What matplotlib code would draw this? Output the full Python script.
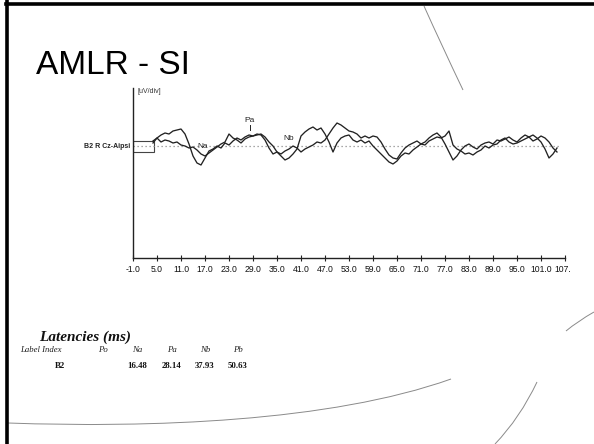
import matplotlib
matplotlib.use("Agg")
import matplotlib.pyplot as plt
from matplotlib.path import Path
from matplotlib.patches import PathPatch, Rectangle
from matplotlib.transforms import Bbox, TransformedBbox

# ---------------- data ----------------
title = "AMLR - SI"
channel_label = "B2 R Cz-Aipsi"
unit_label = "[uV/div]"

tick_values = [-1, 5, 11, 17, 23, 29, 35, 41, 47, 53, 59, 65, 71, 77, 83, 89, 95, 101, 107]
tick_labels = ["-1.0", "5.0", "11.0", "17.0", "23.0", "29.0", "35.0", "41.0", "47.0", "53.0",
               "59.0", "65.0", "71.0", "77.0", "83.0", "89.0", "95.0", "101.0", "107.0"]

time_ms = [4, 5, 6, 7, 8, 9, 10, 11, 12, 13, 14, 15, 16, 17, 18, 19, 20, 21, 22, 23,
           24, 25, 26, 27, 28, 29, 30, 31, 32, 33, 34, 35, 36, 37, 38, 39, 40, 41, 42, 43,
           44, 45, 46, 47, 48, 49, 50, 51, 52, 53, 54, 55, 56, 57, 58, 59, 60, 61, 62, 63,
           64, 65, 66, 67, 68, 69, 70, 71, 72, 73, 74, 75, 76, 77, 78, 79, 80, 81, 82, 83,
           84, 85, 86, 87, 88, 89, 90, 91, 92, 93, 94, 95, 96, 97, 98, 99, 100, 101, 102, 103,
           104, 105]

trace_a = [5, 8, 11, 13, 12, 15, 16, 17, 12, 2, -10, -17, -19, -12, -5, -3, 0, -2, 3, 1,
           5, 8, 6, 9, 11, 10, 12, 11, 6, -2, -8, -6, -10, -14, -12, -8, -3, 10, 14, 17,
           19, 16, 18, 12, 4, -6, 3, 8, 10, 11, 6, 4, 6, 3, 5, 0, -4, -8, -12, -16,
           -18, -15, -10, -7, -8, -4, -1, 2, 1, 5, 7, 9, 8, 10, 15, 1, -3, -5, -8, -7,
           -9, -6, -4, 0, -2, 1, 2, 6, 8, 4, 2, 3, 5, 7, 9, 11, 8, 4, -3, -12,
           -8, -2]

trace_b = [3, 8, 4, 6, 5, 3, 4, 1, 0, -2, -1, -4, -8, -10, -7, -4, -1, 2, 4, 12,
           8, 6, 3, 7, 9, 10, 11, 12, 9, 4, 0, -6, -8, -5, -3, 0, -2, -6, -3, -1,
           1, 4, 3, 6, 12, 18, 23, 21, 18, 15, 14, 12, 8, 10, 8, 10, 9, 4, -3, -9,
           -12, -13, -7, -2, 1, 3, 5, 2, 4, 8, 11, 13, 9, 2, -6, -14, -10, -4, 0, 2,
           -1, -3, 1, 3, 4, 2, 6, 5, 7, 9, 6, 4, 8, 11, 9, 5, 7, 10, 8, 4,
           -2, -6]

peak_names = ["Na", "Pa", "Nb"]
peak_latency = [16.48, 28.14, 37.93]
peak_label_level = [-4, 22, 4]

table_title = "Latencies (ms)"
table_header = ["Label Index", "Po", "Na", "Pa", "Nb", "Pb"]
table_row_label = "B2"
table_values = ["", "16.48", "28.14", "37.93", "50.63"]

# ---------------- figure ----------------
W, H = 594, 444
fig = plt.figure(figsize=(W / 100, H / 100), dpi=100)
fig.patch.set_facecolor("white")


def fx(x):
    return x / W


def fy(y):
    return 1 - y / H


# slide frame (left + top)
fig.add_artist(plt.Line2D([fx(7), fx(7)], [fy(0), fy(444)], transform=fig.transFigure,
                          color="black", lw=2.6))
fig.add_artist(plt.Line2D([fx(6), fx(594)], [fy(4.5), fy(4.5)], transform=fig.transFigure,
                          color="black", lw=2.6))

# decorative slide curves
deco = [
    ([(424, 6), (441, 44), (463, 90)], [Path.MOVETO, Path.CURVE3, Path.CURVE3]),
    ([(8, 423), (150, 428), (330, 422), (451, 379)], [Path.MOVETO, Path.CURVE4, Path.CURVE4, Path.CURVE4]),
    ([(594, 312), (578, 321), (566, 331)], [Path.MOVETO, Path.CURVE3, Path.CURVE3]),
    ([(537, 382), (520, 418), (495, 444)], [Path.MOVETO, Path.CURVE3, Path.CURVE3]),
]
for pts, codes in deco:
    verts = [(fx(x), fy(y)) for x, y in pts]
    fig.add_artist(PathPatch(Path(verts, codes), transform=fig.transFigure,
                             fill=False, edgecolor="#8a8a8a", lw=0.7))

# title
fig.text(fx(36), fy(74), title, fontsize=24, family="Liberation Sans",
         ha="left", va="baseline", color="black")

# ---------------- waveform axes ----------------
ax = fig.add_axes([fx(133), fy(258), fx(565) - fx(133), fy(88) - fy(258)])
ax.set_xlim(-1, 107)
ax.set_ylim(-112, 58)
ax.set_facecolor("none")
for s in ["top", "right"]:
    ax.spines[s].set_visible(False)
for s in ["left", "bottom"]:
    ax.spines[s].set_color("#222222")
    ax.spines[s].set_linewidth(1.0)
ax.set_yticks([])
ax.set_xticks(tick_values)
ax.set_xticklabels(tick_labels)
ax.tick_params(axis="x", direction="inout", length=4, width=0.8, color="#222222",
               labelsize=6.2, labelcolor="#111111", pad=3)
for lab in ax.get_xticklabels():
    lab.set_family(["Liberation Sans Narrow", "Liberation Sans"])
last = ax.get_xticklabels()[-1]
last.set_clip_box(TransformedBbox(Bbox([[0, 0], [fx(571), 1]]), fig.transFigure))
last.set_clip_on(True)

# baseline (dotted) and calibration box
ax.plot([-1, 106], [0, 0], color="#8c8c8c", lw=0.9, ls=(0, (1, 2.2)))
ax.add_patch(Rectangle((-1, -6), 5.25, 11, fill=False, edgecolor="#444444", lw=0.8))

# traces
ax.plot(time_ms, trace_a, color="#222222", lw=0.95)
ax.plot(time_ms, trace_b, color="#222222", lw=0.95)

# peak labels
for name, lat, lvl in zip(peak_names, peak_latency, peak_label_level):
    ax.text(lat, lvl, name, fontsize=6, ha="center", va="bottom", color="#222222",
            family="Liberation Sans")
ax.plot([peak_latency[1], peak_latency[1]], [16, 21], color="#222222", lw=0.7)

ax.text(0.01, 1.0, unit_label, transform=ax.transAxes, fontsize=5, ha="left", va="top",
        color="#333333", family="Liberation Sans")
ax.text(-1.6, 0, channel_label, fontsize=5, ha="right", va="center", color="#222222",
        weight="bold", family=["Liberation Sans Narrow", "Liberation Sans"])

# ---------------- latency table ----------------
fig.text(fx(39), fy(341), table_title, fontsize=11, family="Liberation Serif",
         style="italic", weight="bold", ha="left", va="baseline", color="#111111")
header_x = [20, 103, 137, 172, 205, 238]
for i, (hx, h) in enumerate(zip(header_x, table_header)):
    fig.text(fx(hx), fy(352), h, fontsize=6.3, family="Liberation Serif", style="italic",
             ha="left" if i == 0 else "center", va="baseline", color="#222222")
fig.text(fx(60), fy(368), table_row_label, fontsize=6.3, family="Liberation Serif",
         weight="bold", ha="center", va="baseline", color="#111111")
for vx, v in zip(header_x[1:], table_values):
    fig.text(fx(vx), fy(368), v, fontsize=6.3, family="Liberation Serif", weight="bold",
             ha="center", va="baseline", color="#111111")

fig.savefig("out.png", dpi=100, facecolor="white")
